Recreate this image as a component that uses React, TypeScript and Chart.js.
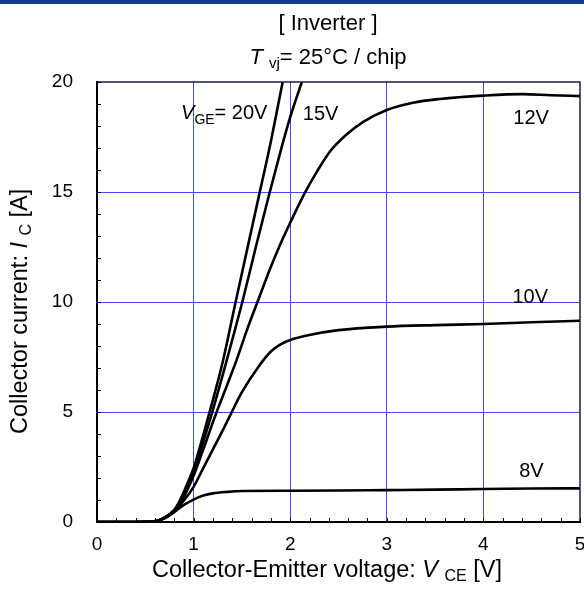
import React, { useEffect, useRef } from 'react';
import { Chart, registerables } from 'chart.js';

Chart.register(...registerables);

// ---- data ----
const V20_X = [0, 0.2, 0.4, 0.6, 0.7, 0.8, 0.86, 0.95, 1.0, 1.1, 1.2, 1.3, 1.43, 1.55, 1.67, 1.8, 1.92, 1.97];
const V20_Y = [0, 0, 0, 0.03, 0.2, 0.55, 1.0, 1.9, 2.45, 3.95, 5.55, 7.25, 9.9, 12.3, 14.7, 17.3, 19.95, 21];

const V15_X = [0, 0.2, 0.4, 0.6, 0.7, 0.8, 0.87, 0.96, 1.0, 1.1, 1.2, 1.34, 1.51, 1.65, 1.78, 1.9, 2.0, 2.12, 2.2];
const V15_Y = [0, 0, 0, 0.03, 0.2, 0.53, 0.98, 1.85, 2.3, 3.65, 5.1, 7.3, 10.1, 12.6, 14.85, 16.85, 18.4, 20, 21.1];

const V12_X = [0, 0.2, 0.4, 0.6, 0.7, 0.8, 0.88, 0.97, 1.0, 1.1, 1.23, 1.34, 1.44, 1.55, 1.67, 1.8, 1.9, 2.0, 2.15, 2.28, 2.41, 2.58, 2.76, 3.0, 3.27, 3.55, 4.0, 4.4, 4.7, 5.0];
const V12_Y = [0, 0, 0, 0.03, 0.2, 0.52, 0.97, 1.8, 2.1, 3.3, 4.9, 6.15, 7.3, 8.7, 10.1, 11.6, 12.65, 13.6, 14.95, 15.95, 16.83, 17.6, 18.2, 18.73, 19.06, 19.23, 19.38, 19.45, 19.4, 19.36];

const V10_X = [0, 0.2, 0.4, 0.6, 0.7, 0.8, 0.9, 1.0, 1.1, 1.2, 1.3, 1.39, 1.5, 1.67, 1.8, 1.9, 2.0, 2.2, 2.5, 3.0, 3.5, 4.0, 4.5, 5.0];
const V10_Y = [0, 0, 0, 0.03, 0.19, 0.5, 0.98, 1.6, 2.45, 3.3, 4.15, 4.95, 5.9, 7.05, 7.75, 8.07, 8.27, 8.5, 8.72, 8.88, 8.95, 9.0, 9.08, 9.15];

const V8_X = [0, 0.2, 0.4, 0.6, 0.7, 0.8, 0.9, 1.0, 1.1, 1.2, 1.35, 1.5, 2.0, 2.5, 3.0, 3.5, 4.0, 4.5, 5.0];
const V8_Y = [0, 0, 0, 0.03, 0.17, 0.45, 0.78, 1.02, 1.2, 1.3, 1.37, 1.41, 1.42, 1.43, 1.45, 1.47, 1.5, 1.52, 1.53];

const X_MIN = 0, X_MAX = 5, X_STEP = 1, X_MINOR = 0.2;
const Y_MIN = 0, Y_MAX = 20, Y_STEP = 5, Y_MINOR = 1;

const TITLE = '[ Inverter ]';
const SUBTITLE_SUB = 'vj';
const SUBTITLE_REST = '= 25°C / chip';

// curve labels, anchored in data coordinates (left edge, vertical middle)
const CURVE_LABELS = [
  { pre: 'V', sub: 'GE', post: '= 20V', x: 0.87, y: 18.65 },
  { pre: '', sub: '', post: '15V', x: 2.13, y: 18.6 },
  { pre: '', sub: '', post: '12V', x: 4.31, y: 18.4 },
  { pre: '', sub: '', post: '10V', x: 4.30, y: 10.27 },
  { pre: '', sub: '', post: '8V', x: 4.37, y: 2.36 },
];

const FONT = '"Liberation Sans", Arial, Helvetica, sans-serif';
const GRID = 'rgb(70,70,250)';

type Run = { t: string; italic?: boolean; sub?: boolean };

function runsWidth(ctx: CanvasRenderingContext2D, runs: Run[], size: number, subSize: number) {
  let w = 0;
  for (const r of runs) {
    ctx.font = `${r.italic ? 'italic ' : ''}${r.sub ? subSize : size}px ${FONT}`;
    w += ctx.measureText(r.t).width;
  }
  return w;
}

function drawRuns(ctx: CanvasRenderingContext2D, runs: Run[], x: number, y: number, size: number, subSize: number, subDrop: number) {
  let cx = x;
  ctx.textAlign = 'left';
  ctx.textBaseline = 'alphabetic';
  for (const r of runs) {
    ctx.font = `${r.italic ? 'italic ' : ''}${r.sub ? subSize : size}px ${FONT}`;
    ctx.fillText(r.t, cx, y + (r.sub ? subDrop : 0));
    cx += ctx.measureText(r.t).width;
  }
}

// grid drawn as crisp 1px blue rectangles, behind the curves
const gridPlugin = {
  id: 'bluegrid',
  beforeDatasetsDraw(chart: any) {
    const ctx: CanvasRenderingContext2D = chart.ctx;
    const { left, right, top, bottom } = chart.chartArea;
    const xs = chart.scales.x;
    const ys = chart.scales.y;
    ctx.save();
    ctx.fillStyle = GRID;
    for (let v = X_MIN + X_STEP; v < X_MAX - 1e-9; v += X_STEP) {
      const px = Math.floor(xs.getPixelForValue(v));
      ctx.fillRect(px, top, 1, bottom - top);
    }
    for (let v = Y_MIN + Y_STEP; v < Y_MAX - 1e-9; v += Y_STEP) {
      const py = Math.floor(ys.getPixelForValue(v));
      ctx.fillRect(left, py, right - left, 1);
    }
    ctx.restore();
  },
};

const decorPlugin = {
  id: 'decor',
  afterDraw(chart: any) {
    const ctx: CanvasRenderingContext2D = chart.ctx;
    const { left, right, top, bottom } = chart.chartArea;
    const xs = chart.scales.x;
    const ys = chart.scales.y;
    ctx.save();

    // top blue bar
    ctx.fillStyle = '#123f8c';
    ctx.fillRect(0, 0, chart.width, 4);

    ctx.fillStyle = '#000';
    // title
    const tSize = 22;
    const tRuns: Run[] = [{ t: TITLE }];
    const tw = runsWidth(ctx, tRuns, tSize, 15);
    drawRuns(ctx, tRuns, 328 - tw / 2, 30, tSize, 15, 5);
    const sRuns: Run[] = [{ t: 'T', italic: true }, { t: ' ' }, { t: SUBTITLE_SUB, sub: true }, { t: SUBTITLE_REST }];
    const sw = runsWidth(ctx, sRuns, tSize, 15);
    drawRuns(ctx, sRuns, 328 - sw / 2, 64, tSize, 15, 4);

    // frame
    ctx.strokeStyle = '#1c1c50';
    ctx.lineWidth = 1.5;
    ctx.beginPath();
    ctx.moveTo(left, top);
    ctx.lineTo(right, top);
    ctx.lineTo(right, bottom);
    ctx.stroke();
    ctx.strokeStyle = '#000';
    ctx.lineWidth = 2;
    ctx.beginPath();
    ctx.moveTo(left, top - 1);
    ctx.lineTo(left, bottom);
    ctx.lineTo(right + 1, bottom);
    ctx.stroke();

    // minor ticks
    ctx.lineWidth = 1;
    ctx.beginPath();
    for (let v = X_MIN; v <= X_MAX + 1e-9; v += X_MINOR) {
      const px = Math.round(xs.getPixelForValue(v)) + 0.5;
      ctx.moveTo(px, bottom);
      ctx.lineTo(px, bottom - 4);
    }
    for (let v = Y_MIN; v <= Y_MAX + 1e-9; v += Y_MINOR) {
      const py = Math.round(ys.getPixelForValue(v)) + 0.5;
      ctx.moveTo(left, py);
      ctx.lineTo(left + 4, py);
    }
    ctx.stroke();

    // curve labels
    const lSize = 20;
    for (const l of CURVE_LABELS) {
      const px = xs.getPixelForValue(l.x);
      const py = ys.getPixelForValue(l.y) + lSize * 0.36;
      const runs: Run[] = [];
      if (l.pre) runs.push({ t: l.pre, italic: true });
      if (l.sub) runs.push({ t: l.sub, sub: true });
      runs.push({ t: l.post });
      drawRuns(ctx, runs, px, py, lSize, 14, 5);
    }

    // x axis title
    const aSize = 23.5;
    const xRuns: Run[] = [{ t: 'Collector-Emitter voltage: ' }, { t: 'V', italic: true }, { t: ' ' }, { t: 'CE', sub: true }, { t: ' [V]' }];
    drawRuns(ctx, xRuns, 152, 577, aSize, 16, 4);

    // y axis title
    ctx.save();
    ctx.translate(26.5, 434);
    ctx.rotate(-Math.PI / 2);
    const yRuns: Run[] = [{ t: 'Collector current: ' }, { t: 'I', italic: true }, { t: ' ' }, { t: 'C', sub: true }, { t: ' [A]' }];
    drawRuns(ctx, yRuns, 0, 0, aSize, 16, 4);
    ctx.restore();

    ctx.restore();
  },
};

function mk(xs: number[], ys: number[]) {
  return xs.map((x, i) => ({ x, y: ys[i] }));
}

export default function App() {
  const ref = useRef<HTMLCanvasElement>(null);
  useEffect(() => {
    if (!ref.current) return;
    const curves = [
      [V20_X, V20_Y],
      [V15_X, V15_Y],
      [V12_X, V12_Y],
      [V10_X, V10_Y],
      [V8_X, V8_Y],
    ];
    const chart = new Chart(ref.current, {
      type: 'line',
      data: {
        datasets: curves.map(([a, b]) => ({
          data: mk(a as number[], b as number[]),
          borderColor: '#000',
          borderWidth: 2.6,
          pointRadius: 0,
          fill: false,
          cubicInterpolationMode: 'monotone' as const,
        })),
      },
      options: {
        responsive: false,
        animation: false,
        devicePixelRatio: 1,
        parsing: false as any,
        layout: { padding: { left: 0, top: 82, right: 4, bottom: 0 } },
        plugins: { legend: { display: false }, tooltip: { enabled: false }, title: { display: false } },
        scales: {
          x: {
            type: 'linear',
            min: X_MIN,
            max: X_MAX,
            ticks: { stepSize: X_STEP, color: '#000', font: { size: 19, family: FONT }, padding: 11, maxRotation: 0 },
            grid: { display: false, drawTicks: false },
            border: { display: false },
            afterFit: (s: any) => { s.height = 69; s.paddingLeft = 0; s.paddingRight = 0; },
          },
          y: {
            type: 'linear',
            min: Y_MIN,
            max: Y_MAX,
            ticks: { stepSize: Y_STEP, color: '#000', font: { size: 19, family: FONT }, padding: 24 },
            grid: { display: false, drawTicks: false },
            border: { display: false },
            afterFit: (s: any) => { s.width = 97; s.paddingTop = 0; s.paddingBottom = 0; },
          },
        },
      },
      plugins: [gridPlugin, decorPlugin],
    });
    return () => chart.destroy();
  }, []);
  return (
    <div style={{ position: 'absolute', left: 0, top: 0, width: 584, height: 591, background: '#fff' }}>
      <canvas ref={ref} width={584} height={591} style={{ display: 'block' }} />
    </div>
  );
}
